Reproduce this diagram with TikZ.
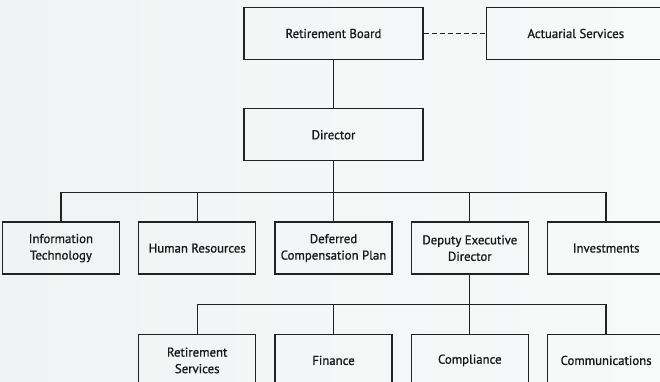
\documentclass[tikz,border=0pt]{standalone}
\usepackage{fontspec}
\setmainfont{PT Sans}
\newfontfamily\boxfont{PT Sans}[FakeBold=0.9]
\usetikzlibrary{positioning,calc}
\definecolor{pagebg}{HTML}{F1F2F3}
\definecolor{pagehi}{HTML}{F8F9F9}
\definecolor{inkline}{HTML}{222222}
\tikzset{
  unit/.style={rectangle,draw=inkline,line width=1.3pt,minimum width=117pt,minimum height=52pt,
    inner sep=2pt,align=center,text=black!90,font=\boxfont\fontsize{12.8}{16.5}\selectfont},
  head/.style={unit,minimum width=179pt,minimum height=52pt},
  link/.style={draw=inkline,line width=1.3pt},
}

\begin{document}
\begin{tikzpicture}[node distance=18pt]
  \useasboundingbox (0,0) rectangle (660pt,-381pt);
  \shade[left color=pagebg,right color=pagehi] (0,0) rectangle (660pt,-381pt);
  \clip (0,0) rectangle (660pt,-381pt);
  % board level
  \node[head] (board) at (333.5pt,-33.5pt) {Retirement Board};
  \node[head,right=62pt of board] (actuary) {Actuarial Services};
  \node[head,below=48pt of board] (director) {Director};
  % divisions
  \node[unit,below=60pt of director] (defer) {Deferred\\Compensation Plan};
  \node[unit,left=of defer] (hr) {Human Resources};
  \node[unit,left=of hr] (it) {Information\\Technology};
  \node[unit,right=of defer] (deputy) {Deputy Executive\\Director};
  \node[unit,right=of deputy] (invest) {Investments};
  % sections under the deputy
  \node[unit,below=59pt of defer] (finance) {Finance};
  \node[unit,left=of finance] (services) {Retirement\\Services};
  \node[unit,right=of finance] (compliance) {Compliance};
  \node[unit,right=of compliance] (comms) {Communications};
  \coordinate (busa) at ($(director.south)+(0,-31pt)$);
  \coordinate (busb) at ($(deputy.south)+(0,-30pt)$);
  \draw[link,dash pattern=on 5pt off 3pt] (board) -- (actuary);
  \draw[link] (board) -- (director);
  \draw[link] (director) -- (busa);
  \draw[link] (it.north) |- (busa) -| (invest.north);
  \foreach \n in {hr,defer,deputy}
    \draw[link] (\n.north) -- (\n.north |- busa);
  \draw[link] (deputy) -- (busb);
  \draw[link] (services.north) |- (busb) -| (comms.north);
  \foreach \n in {finance,compliance}
    \draw[link] (\n.north) -- (\n.north |- busb);
\end{tikzpicture}
\end{document}
